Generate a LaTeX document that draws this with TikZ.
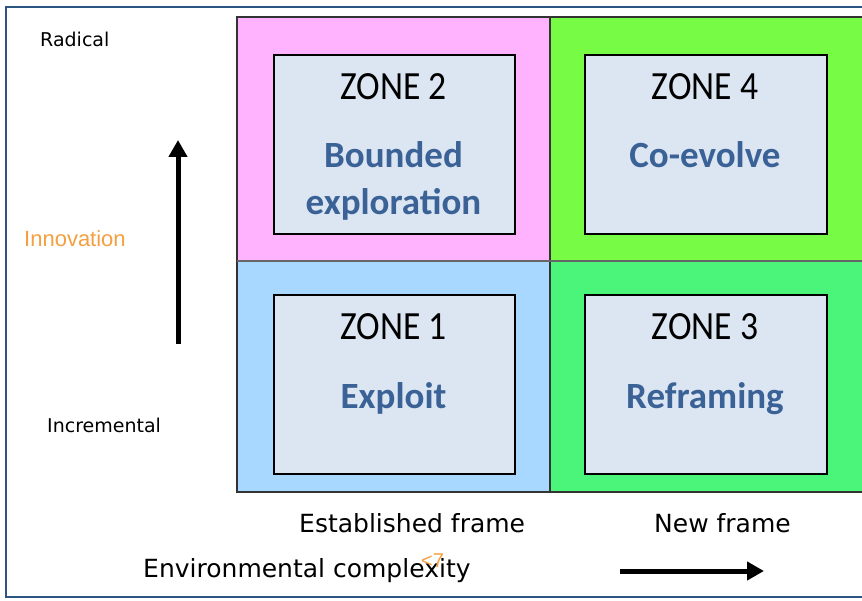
\documentclass[tikz,border=0pt]{standalone}
\usepackage{fontspec}
\setmainfont{DejaVu Sans}
\newfontfamily\zonefont{Carlito}
\newfontfamily\arialfont{Liberation Sans}
\usetikzlibrary{arrows.meta}
\definecolor{framblue}{HTML}{2C5582}
\definecolor{qpink}{HTML}{FFB3FF}
\definecolor{qlime}{HTML}{77FB44}
\definecolor{qblue}{HTML}{A8D8FF}
\definecolor{qgreen}{HTML}{4BF57A}
\definecolor{boxfill}{HTML}{DCE6F2}
\definecolor{zoneblue}{HTML}{3A6296}
\definecolor{innorange}{HTML}{F5A040}
\tikzset{
  zonebox/.style={draw=black, line width=2pt, fill=boxfill},
  zonetitle/.style={anchor=base, inner sep=0pt, font=\zonefont\fontsize{40}{44}\selectfont, xscale=0.89},
  zonename/.style={anchor=base, inner sep=0pt, text=zoneblue, font=\zonefont\bfseries\fontsize{37}{40}\selectfont},
  axislabel/.style={anchor=base west, inner sep=0pt, font=\fontsize{19}{22}\selectfont},
  framelabel/.style={anchor=base west, inner sep=0pt, font=\fontsize{25}{28}\selectfont},
  bigarrow/.style={line width=5pt, -{Triangle[width=18pt,length=17pt]}}
}
\begin{document}
\begin{tikzpicture}[x=1pt,y=-1pt]
\useasboundingbox (0,0) rectangle (862,601);
\fill[white] (0,0) rectangle (862,601);
% outer frame
\draw[framblue, line width=2.5pt] (862,7) -- (6,7) -- (6,597) -- (862,597);
% quadrants
\fill[qpink] (237,17) rectangle (550,261);
\fill[qlime] (550,17) rectangle (862,261);
\fill[qblue] (237,261) rectangle (550,492);
\fill[qgreen] (550,261) rectangle (862,492);
\draw[black!80, line width=1.5pt] (862,17) -- (237,17) -- (237,492) -- (862,492);
\draw[black!80, line width=1.5pt] (550,17) -- (550,492);
\draw[black!60, line width=1.5pt] (237,261) -- (862,261);
% zone boxes
\node[zonebox, minimum width=241pt, minimum height=179pt, anchor=north west, inner sep=0pt] (z2) at (273,54) {};
\node[zonebox, minimum width=242pt, minimum height=179pt, anchor=north west, inner sep=0pt] (z4) at (584,54) {};
\node[zonebox, minimum width=241pt, minimum height=179pt, anchor=north west, inner sep=0pt] (z1) at (273,294) {};
\node[zonebox, minimum width=242pt, minimum height=179pt, anchor=north west, inner sep=0pt] (z3) at (584,294) {};
% zone texts
\node[zonetitle] (t2) at (393.5,100) {ZONE 2};
\node[zonename] (n2a) at (393.5,168) {Bounded};
\node[zonename] (n2b) at (393.5,215) {exploration};
\node[zonetitle] (t4) at (705,100) {ZONE 4};
\node[zonename] (n4) at (705,168) {Co-evolve};
\node[zonetitle] (t1) at (393.5,340) {ZONE 1};
\node[zonename] (n1) at (393.5,408) {Exploit};
\node[zonetitle] (t3) at (705,340) {ZONE 3};
\node[zonename] (n3) at (705,408) {Reframing};
% axis labels
\node[axislabel] (rad) at (40,47) {Radical};
\node[anchor=base west, inner sep=0pt, text=innorange, font=\arialfont\fontsize{22}{25}\selectfont] (inn) at (24,247) {Innovation};
\node[axislabel] (inc) at (47,432) {Incremental};
\node[framelabel] (est) at (299,532) {Established frame};
\node[framelabel] (new) at (654,532) {New frame};
\node[framelabel] (env) at (143,577) {Environmental complexity};
\node[anchor=base west, inner sep=0pt, text=innorange, font=\arialfont\fontsize{20}{22}\selectfont] (glitch) at (421,567) {<7};
% arrows
\coordinate (ua) at (178,344);
\coordinate (ub) at (178,140);
\draw[bigarrow] (ua) -- (ub);
\coordinate (ra) at (620,571);
\coordinate (rb) at (764,571);
\draw[bigarrow] (ra) -- (rb);
\end{tikzpicture}
\end{document}
